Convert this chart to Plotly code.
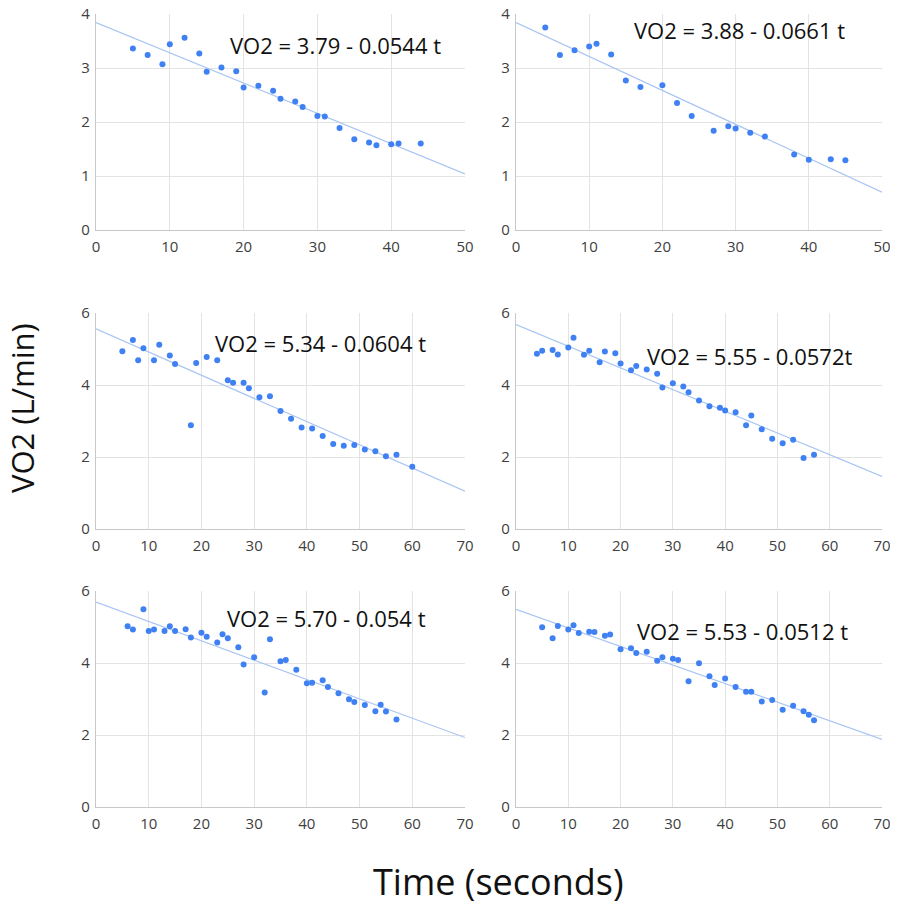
import plotly.graph_objects as go

# panel 1 (top left)
t1 = [5, 7, 9, 10, 12, 14, 15, 17, 19, 20, 22, 24, 25, 27, 28, 30, 31, 33, 35, 37, 38, 40, 41, 44]
v1 = [3.36, 3.24, 3.07, 3.44, 3.56, 3.27, 2.93, 3.01, 2.94, 2.64, 2.67, 2.58, 2.43, 2.38, 2.28,
      2.11, 2.10, 1.89, 1.68, 1.62, 1.57, 1.59, 1.60, 1.60]
trend1_t = [0, 50]
trend1_v = [3.84, 1.04]

# panel 2 (top right)
t2 = [4, 6, 8, 10, 11, 13, 15, 17, 20, 22, 24, 27, 29, 30, 32, 34, 38, 40, 43, 45]
v2 = [3.75, 3.24, 3.33, 3.40, 3.45, 3.25, 2.77, 2.65, 2.68, 2.35, 2.11, 1.84, 1.92, 1.88,
      1.80, 1.73, 1.40, 1.30, 1.31, 1.29]
trend2_t = [0, 50]
trend2_v = [3.84, 0.70]

# panel 3 (middle left)
t3 = [5, 7, 8, 9, 11, 12, 14, 15, 18, 19, 21, 23, 25, 26, 28, 29, 31, 33, 35, 37, 39, 41,
      43, 45, 47, 49, 51, 53, 55, 57, 60]
v3 = [4.94, 5.25, 4.69, 5.02, 4.69, 5.12, 4.82, 4.58, 2.88, 4.61, 4.78, 4.69, 4.13, 4.06,
      4.06, 3.91, 3.66, 3.69, 3.28, 3.06, 2.82, 2.79, 2.58, 2.36, 2.31, 2.33, 2.21, 2.16,
      2.02, 2.06, 1.73]
trend3_t = [0, 70]
trend3_v = [5.56, 1.05]

# panel 4 (middle right)
t4 = [4, 5, 7, 8, 10, 11, 13, 14, 16, 17, 19, 20, 22, 23, 25, 27, 28, 30, 32, 33, 35, 37,
      39, 40, 42, 44, 45, 47, 49, 51, 53, 55, 57]
v4 = [4.87, 4.95, 4.97, 4.85, 5.04, 5.31, 4.84, 4.95, 4.63, 4.93, 4.88, 4.60, 4.41, 4.53,
      4.43, 4.31, 3.93, 4.05, 3.96, 3.80, 3.57, 3.41, 3.37, 3.29, 3.24, 2.88, 3.15, 2.77,
      2.51, 2.38, 2.48, 1.97, 2.06]
trend4_t = [0, 70]
trend4_v = [5.68, 1.46]

# panel 5 (bottom left)
t5 = [6, 7, 9, 10, 11, 13, 14, 15, 17, 18, 20, 21, 23, 24, 25, 27, 28, 30, 32, 33, 35, 36,
      38, 40, 41, 43, 44, 46, 48, 49, 51, 53, 54, 55, 57]
v5 = [5.02, 4.93, 5.49, 4.89, 4.93, 4.89, 5.02, 4.89, 4.94, 4.71, 4.84, 4.73, 4.57, 4.80,
      4.69, 4.44, 3.96, 4.16, 3.18, 4.66, 4.05, 4.08, 3.81, 3.44, 3.45, 3.52, 3.33, 3.16,
      2.99, 2.92, 2.83, 2.66, 2.84, 2.65, 2.43]
trend5_t = [0, 70]
trend5_v = [5.69, 1.93]

# panel 6 (bottom right)
t6 = [5, 7, 8, 10, 11, 12, 14, 15, 17, 18, 20, 22, 23, 25, 27, 28, 30, 31, 33, 35, 37, 38,
      40, 42, 44, 45, 47, 49, 51, 53, 55, 56, 57]
v6 = [4.99, 4.69, 5.03, 4.93, 5.05, 4.83, 4.87, 4.86, 4.76, 4.79, 4.38, 4.41, 4.28, 4.31,
      4.06, 4.16, 4.12, 4.08, 3.49, 3.99, 3.63, 3.39, 3.57, 3.33, 3.20, 3.20, 2.93, 2.97,
      2.70, 2.81, 2.66, 2.56, 2.41]
trend6_t = [0, 70]
trend6_v = [5.49, 1.88]

equations = ["VO2 = 3.79 - 0.0544 t", "VO2 = 3.88 - 0.0661 t", "VO2 = 5.34 - 0.0604 t",
             "VO2 = 5.55 - 0.0572t", "VO2 = 5.70 - 0.054 t", "VO2 = 5.53 - 0.0512 t"]

panels = [
    (t1, v1, trend1_t, trend1_v, 50, 4, 1),
    (t2, v2, trend2_t, trend2_v, 50, 4, 1),
    (t3, v3, trend3_t, trend3_v, 70, 6, 2),
    (t4, v4, trend4_t, trend4_v, 70, 6, 2),
    (t5, v5, trend5_t, trend5_v, 70, 6, 2),
    (t6, v6, trend6_t, trend6_v, 70, 6, 2),
]

# where each equation label sits (data coords of its panel)
eq_pos = [(32.5, 3.43), (30.5, 3.70), (42.6, 5.17), (44.8, 4.80), (43.7, 5.24), (43.4, 4.90)]

# page is 898x904 but the body has an 8px margin, so the figure sits at (8, 8)
OFF = 8
W, H = 898 - OFF, 904 - OFF
col_px = [(96, 465), (516, 882)]
row_px = [(14, 230), (313, 529), (591, 807)]

DOT = "#3f80f2"
TREND = "#a8c5f3"
GRID = "#e3e3e3"
FONT = "Open Sans"

fig = go.Figure()
layout = {}

for i, (tx, vy, tt, tv, xmax, ymax, dy) in enumerate(panels):
    n = i + 1
    r, c = divmod(i, 2)
    xa = "x" if n == 1 else "x%d" % n
    ya = "y" if n == 1 else "y%d" % n

    fig.add_trace(go.Scatter(x=tt, y=tv, mode="lines", xaxis=xa, yaxis=ya,
                             line=dict(color=TREND, width=1.2), showlegend=False,
                             hoverinfo="skip"))
    fig.add_trace(go.Scatter(x=tx, y=vy, mode="markers", xaxis=xa, yaxis=ya,
                             marker=dict(color=DOT, size=6), showlegend=False))

    x0, x1 = [p - OFF for p in col_px[c]]
    y0, y1 = [p - OFF for p in row_px[r]]
    axis_style = dict(showgrid=True, gridcolor=GRID, gridwidth=1, zeroline=False,
                      showline=True, linecolor="#c8c8c8", linewidth=1.2, ticks="",
                      automargin=False, ticklabeloverflow="allow",
                      tickfont=dict(family=FONT, size=15, color="#404040"))
    layout["xaxis" if n == 1 else "xaxis%d" % n] = dict(
        domain=[x0 / W, x1 / W], range=[0, xmax], dtick=10, tick0=0,
        anchor=ya, ticklabelstandoff=3, **axis_style)
    layout["yaxis" if n == 1 else "yaxis%d" % n] = dict(
        domain=[1 - y1 / H, 1 - y0 / H], range=[0, ymax], dtick=dy, tick0=0,
        anchor=xa, ticklabelstandoff=2, **axis_style)

    ex, ey = eq_pos[i]
    fig.add_annotation(x=ex, y=ey, xref=xa, yref=ya, text=equations[i], showarrow=False,
                       xanchor="center", yanchor="middle",
                       font=dict(family=FONT, size=22, color="#111111"))

# overall axis titles
fig.add_annotation(x=(22 - OFF) / W, y=1 - (408 - OFF) / H, xref="paper", yref="paper",
                   text="VO2 (L/min)", textangle=-90, showarrow=False,
                   xanchor="center", yanchor="middle",
                   font=dict(family=FONT, size=31, color="#111111"))
fig.add_annotation(x=(499 - OFF) / W, y=1 - (881 - OFF) / H, xref="paper", yref="paper",
                   text="Time (seconds)", showarrow=False, xanchor="center", yanchor="middle",
                   font=dict(family=FONT, size=36, color="#111111"))

fig.update_layout(width=W, height=H, margin=dict(l=0, r=0, t=0, b=0),
                  plot_bgcolor="white", paper_bgcolor="white", **layout)

fig.write_html("out.html")
